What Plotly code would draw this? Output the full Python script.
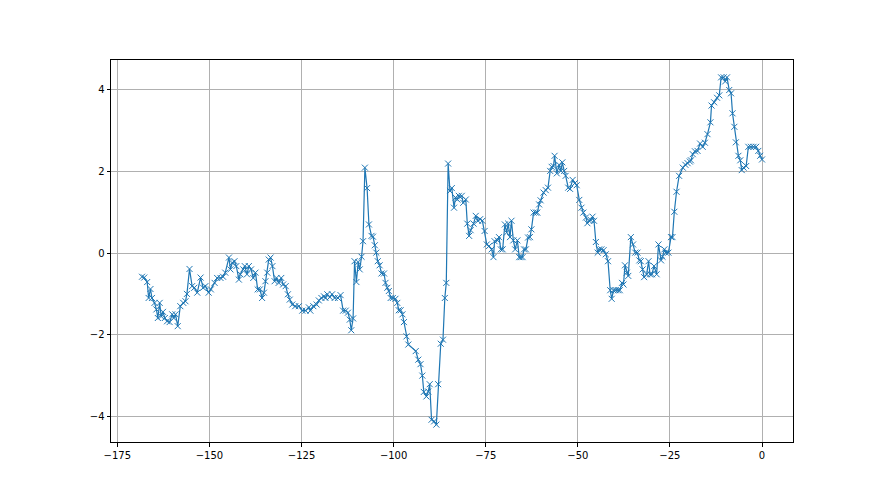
import plotly.graph_objects as go

x_vals = [
    -168.3, -167.7, -166.9, -166.5, -166.0, -165.6, -164.9, -164.4, -164.0, -163.5,
    -163.1, -162.6, -162.1, -161.5, -160.8, -160.1, -159.7, -159.2, -158.6, -157.9,
    -157.1, -156.5, -156.1, -155.4, -154.7, -154.1, -153.3, -152.4, -151.7, -151.1,
    -150.2, -149.6, -148.6, -147.9, -147.0, -146.3, -145.7, -144.7, -144.3, -143.8,
    -143.2, -142.7, -142.0, -141.6, -140.8, -140.4, -139.8, -139.3, -138.7, -138.1,
    -137.5, -136.9, -136.3, -135.7, -135.2, -134.8, -134.3, -133.9, -133.4, -132.9,
    -132.3, -131.8, -131.2, -130.5, -130.0, -129.3, -128.7, -128.2, -127.5, -126.7,
    -125.7, -124.8, -123.9, -123.0, -122.6, -121.8, -120.9, -120.3, -119.6, -118.9,
    -118.5, -118.0, -117.3, -116.7, -116.0, -115.1, -114.4, -113.7, -113.0, -112.4,
    -111.9, -111.5, -111.0, -110.6, -110.1, -109.6, -109.2, -108.7, -108.3, -107.8,
    -107.2, -106.7, -106.0, -105.6, -105.1, -104.7, -104.3, -103.8, -103.3, -102.6,
    -102.2, -101.7, -101.3, -100.8, -100.2, -99.5, -99.0, -98.6, -98.1, -97.6,
    -97.2, -96.5, -96.0, -94.0, -93.3, -92.7, -92.2, -91.8, -91.1, -90.6,
    -90.2, -89.7, -89.0, -88.4, -87.9, -87.2, -86.6, -86.1, -85.7, -85.2,
    -84.7, -84.2, -83.6, -83.2, -82.7, -82.3, -81.5, -81.1, -80.4, -80.0,
    -79.5, -79.1, -78.3, -77.7, -77.1, -76.5, -75.9, -75.3, -74.7, -74.1,
    -73.4, -72.9, -72.6, -71.8, -71.4, -70.9, -70.4, -69.8, -69.3, -68.9,
    -68.4, -68.0, -67.5, -67.0, -66.4, -65.9, -65.5, -65.0, -64.6, -64.1,
    -63.5, -63.0, -62.6, -62.0, -61.4, -61.0, -60.5, -60.1, -59.3, -58.7,
    -58.1, -57.5, -57.1, -56.6, -56.3, -55.7, -55.1, -54.6, -54.2, -53.7,
    -53.3, -52.6, -52.1, -51.4, -50.8, -50.3, -49.6, -49.0, -48.5, -47.8,
    -47.4, -46.9, -46.5, -46.0, -45.6, -45.1, -44.6, -44.2, -43.6, -43.0,
    -42.4, -41.8, -41.2, -40.8, -40.3, -39.7, -39.1, -38.6, -38.0, -37.6,
    -37.2, -36.7, -36.3, -35.6, -35.0, -34.4, -33.8, -33.3, -32.9, -32.4,
    -32.0, -31.3, -30.8, -30.4, -29.9, -29.3, -28.6, -28.1, -27.4, -27.0,
    -26.5, -26.1, -25.4, -24.7, -24.3, -23.8, -23.2, -22.5, -21.5, -20.8,
    -20.2, -19.6, -19.3, -18.8, -18.2, -17.5, -16.8, -16.1, -15.5, -14.8,
    -14.0, -13.7, -13.0, -12.2, -11.6, -11.1, -10.4, -10.0, -9.5, -8.9,
    -8.4, -8.0, -7.5, -7.1, -6.4, -5.9, -5.5, -5.0, -4.3, -3.7,
    -3.0, -2.3, -1.6, -1.0, -0.5, 0.0,
]

y_vals = [
    -0.58, -0.60, -0.71, -1.10, -0.88, -1.10, -1.22, -1.38, -1.59, -1.22,
    -1.55, -1.44, -1.59, -1.67, -1.69, -1.50, -1.59, -1.50, -1.79, -1.30,
    -1.22, -1.18, -1.00, -0.39, -0.81, -0.85, -0.97, -0.60, -0.85, -0.81,
    -0.97, -0.89, -0.73, -0.61, -0.61, -0.58, -0.48, -0.11, -0.40, -0.24,
    -0.20, -0.32, -0.65, -0.52, -0.40, -0.32, -0.52, -0.32, -0.40, -0.61,
    -0.48, -0.89, -0.89, -1.10, -0.97, -0.69, -0.48, -0.16, -0.11, -0.32,
    -0.69, -0.61, -0.73, -0.61, -0.77, -0.81, -1.01, -1.14, -1.26, -1.30,
    -1.30, -1.41, -1.41, -1.33, -1.41, -1.30, -1.26, -1.16, -1.10, -1.06,
    -1.10, -1.01, -1.08, -1.01, -1.10, -1.10, -1.03, -1.41, -1.41, -1.46,
    -1.63, -1.89, -1.60, -0.20, -0.71, -0.22, -0.40, -0.09, 0.29, 2.09,
    1.59, 0.70, 0.42, 0.40, 0.19, 0.01, -0.20, -0.30, -0.50, -0.50,
    -0.73, -0.85, -0.93, -1.10, -1.10, -1.12, -1.22, -1.40, -1.40, -1.50,
    -1.69, -2.04, -2.24, -2.40, -2.61, -2.72, -3.00, -3.40, -3.51, -3.39,
    -3.21, -4.08, -4.12, -4.20, -3.21, -2.22, -2.12, -1.10, -0.73, 2.19,
    1.52, 1.59, 1.11, 1.36, 1.31, 1.40, 1.40, 1.23, 1.31, 0.72,
    0.42, 0.56, 0.72, 0.91, 0.79, 0.83, 0.79, 0.54, 0.21, 0.17,
    0.09, -0.10, 0.29, 0.31, 0.39, 0.09, 0.09, 0.70, 0.50, 0.72,
    0.39, 0.79, 0.31, 0.09, 0.31, -0.10, -0.10, -0.10, 0.09, 0.09,
    0.38, 0.39, 0.58, 0.99, 0.99, 0.99, 1.19, 1.29, 1.48, 1.54,
    1.60, 2.01, 2.11, 2.13, 2.38, 1.95, 2.16, 2.01, 2.22, 2.01,
    1.89, 1.60, 1.57, 1.79, 1.71, 1.66, 1.30, 1.11, 0.99, 0.87,
    0.73, 0.79, 0.81, 0.89, 0.79, 0.27, 0.01, 0.09, 0.09, 0.07,
    -0.03, -0.20, -0.91, -1.12, -0.91, -0.91, -0.91, -0.91, -0.73, -0.77,
    -0.30, -0.48, -0.56, 0.39, 0.21, 0.01, 0.01, -0.18, -0.20, -0.40,
    -0.59, -0.52, -0.20, -0.52, -0.52, -0.32, -0.52, 0.21, -0.18, -0.09,
    0.09, 0.01, 0.01, 0.39, 0.39, 1.01, 1.50, 1.89, 2.09, 2.16,
    2.20, 2.24, 2.27, 2.42, 2.49, 2.50, 2.68, 2.60, 2.70, 2.91,
    3.20, 3.61, 3.69, 3.80, 3.86, 4.30, 4.30, 4.20, 4.30, 3.99,
    3.91, 3.42, 3.09, 2.71, 2.38, 2.27, 2.03, 2.09, 2.13, 2.60,
    2.60, 2.60, 2.60, 2.50, 2.38, 2.29,
]

x_ticks = [-175, -150, -125, -100, -75, -50, -25, 0]
y_ticks = [-4, -2, 0, 2, 4]

color = "#1f77b4"

fig = go.Figure()
fig.add_trace(go.Scatter(
    x=x_vals, y=y_vals, mode="lines+markers",
    line=dict(color=color, width=1.2),
    marker=dict(symbol="x-thin", size=6, line=dict(color=color, width=1), color=color),
    showlegend=False,
))

axis_common = dict(
    showline=True, linecolor="black", linewidth=1, mirror=True,
    showgrid=True, gridcolor="#b0b0b0", gridwidth=0.8,
    ticks="outside", ticklen=3.5, tickwidth=0.8, tickcolor="black",
    tickfont=dict(family="DejaVu Sans", size=10, color="black"),
    zeroline=False,
)

xmin, xmax = min(x_vals), max(x_vals)
ymin, ymax = min(y_vals), max(y_vals)
xpad = (xmax - xmin) * 0.05
ypad = (ymax - ymin) * 0.05

fig.update_xaxes(range=[xmin - xpad, xmax + xpad], tickvals=x_ticks,
                 ticktext=[str(v).replace("-", "\u2212") for v in x_ticks], **axis_common)
fig.update_yaxes(range=[ymin - ypad, ymax + ypad], tickvals=y_ticks,
                 ticktext=[str(v).replace("-", "\u2212") for v in y_ticks], **axis_common)

fig.update_layout(
    width=880, height=495,
    margin=dict(l=103, r=95, t=52, b=61),
    plot_bgcolor="white", paper_bgcolor="white",
)

fig.write_html("out.html")
